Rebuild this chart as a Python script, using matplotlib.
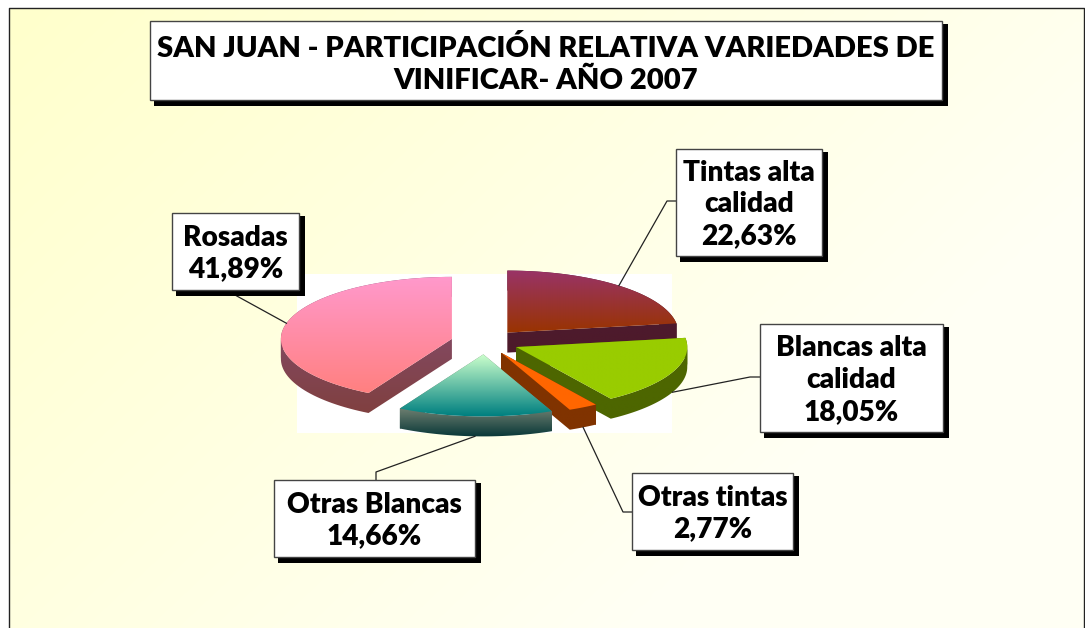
"""San Juan wine varieties: exploded 3D pie drawn on a pixel-sized axes."""

import matplotlib as mpl
mpl.use("Agg")
import matplotlib.pyplot as plt
import numpy as np
from matplotlib.colors import LinearSegmentedColormap
from matplotlib.patches import PathPatch, Rectangle
from matplotlib.path import Path

plt.rcParams["font.family"] = ["Lato", "DejaVu Sans"]

# ─── Data ────────────────────────────────────────────────────────────────────
TITLE = "SAN JUAN - PARTICIPACIÓN RELATIVA VARIEDADES DE\nVINIFICAR- AÑO 2007"
names = ["Tintas alta\ncalidad", "Blancas alta\ncalidad", "Otras tintas",
         "Otras Blancas", "Rosadas"]
shares = [22.63, 18.05, 2.77, 14.66, 41.89]

# ─── Slice colours (top of face, bottom of face) ─────────────────────────────
top_cols = [("#993366", "#993300"), ("#99cc00", "#99cc00"), ("#ff6600", "#ff6600"),
            ("#ccffcc", "#008080"), ("#ff99cc", "#ff8080")]
side_cols = [("#4d1a33", "#4d1a2a"), ("#4d6600", "#4d6600"), ("#803300", "#803300"),
             ("#6e7f70", "#0c3a3a"), ("#85507a", "#804040")]

# ─── Layout, in pixels ───────────────────────────────────────────────────────
W, H = 1085, 628
CX, CY = 485, 342
RX, RY = 171, 62
DEPTH = 20
EXPLODE = 0.2
TXT_FS = 20.2
TITLE_FS = 21

# box x0, x1, y0, y1 and the elbow of the leader line + where it meets the box
boxes = [(676, 822, 149, 256), (760, 943, 324, 432), (632, 793, 473, 550),
         (274, 475, 480, 557), (172, 299, 213, 290)]
elbows = [((667, 201), (676, 201)), ((750, 377), (760, 377)), ((623, 512), (632, 512)),
          ((376, 472), (376, 480)), ((235, 295), (235, 290))]
draw_order = [0, 4, 1, 2, 3]


def gradient_fill(ax, path, cols, y0, y1, zorder):
    # colour runs from y0 to y1, and stays flat outside that range
    cmap = LinearSegmentedColormap.from_list("g", cols)
    x0, x1 = path.vertices[:, 0].min() - 1, path.vertices[:, 0].max() + 1
    ya, yb = path.vertices[:, 1].min() - 1, path.vertices[:, 1].max() + 1
    ramp = np.clip((np.linspace(ya, yb, 128) - y0) / (y1 - y0), 0, 1)
    im = ax.imshow(ramp[:, None], cmap=cmap, vmin=0, vmax=1, aspect="auto",
                   extent=(x0, x1, yb, ya), zorder=zorder, interpolation="bilinear")
    im.set_clip_path(PathPatch(path, transform=ax.transData))


def text_box(ax, x0, x1, y0, y1, txt, fs, spacing=1.28, dy=2):
    # hard black drop shadow sits a bit lower right of the box
    ax.add_patch(Rectangle((x0 + 4, y0 + 3), x1 - x0 + 2, y1 - y0 + 3, fc="black", ec="none", zorder=20))
    ax.add_patch(Rectangle((x0, y0), x1 - x0, y1 - y0, fc="white", ec="#444444", lw=1.0, zorder=21))
    ax.text((x0 + x1) / 2, (y0 + y1) / 2 + dy, txt, ha="center", va="center", fontsize=fs,
            fontweight="heavy", color="black", linespacing=spacing, zorder=22)


fig = plt.figure(figsize=(W / 100, H / 100), dpi=100, facecolor="white")
ax = fig.add_axes([0, 0, 1, 1])
ax.axis("off")

# Panel background, pale yellow fading to the lower right
yy, xx = np.mgrid[0:1:64j, 0:1:64j]
cmap_bg = LinearSegmentedColormap.from_list("bg", ["#ffffcc", "#fffff4"])
ax.imshow(np.clip((xx * 0.8 + yy * 0.5) * 1.05, 0, 1), cmap=cmap_bg, vmin=0, vmax=1,
          aspect="auto", extent=(9, 1084, H + 10, 8), zorder=0, interpolation="bilinear")
ax.plot([9, 9, 1084, 1084], [H + 10, 8, 8, H + 10], color="#222222", lw=1.0, zorder=1)

# White chart area behind the pie
ax.add_patch(Rectangle((297, 274), 375, 159, fc="white", ec="none", zorder=2))

# Pie
edges = np.concatenate([[0], np.cumsum(shares)]) / sum(shares) * 2 * np.pi
for i in draw_order:
    a0, a1 = edges[i], edges[i + 1]
    mid = (a0 + a1) / 2
    ax0 = CX + EXPLODE * RX * np.sin(mid)
    ay0 = CY - EXPLODE * RY * np.cos(mid)
    t = np.linspace(a0, a1, 80)
    arc_x = ax0 + RX * np.sin(t)
    arc_y = ay0 - RY * np.cos(t)
    poly = np.column_stack([np.r_[ax0, arc_x, ax0], np.r_[ay0, arc_y, ay0]])

    # walls: every outline edge pulled down by the depth
    quads = []
    for p, q in zip(poly[:-1], poly[1:]):
        quad = np.array([p, q, q + [0, DEPTH], p + [0, DEPTH], p])
        area = np.sum(quad[:-1, 0] * quad[1:, 1] - quad[1:, 0] * quad[:-1, 1])
        quads.append(Path(quad if area > 0 else quad[::-1]))
    z = 3 + draw_order.index(i) * 2
    side = Path.make_compound_path(*quads)
    wall_top = min(arc_y[0], arc_y[-1])
    gradient_fill(ax, side, side_cols[i], wall_top, poly[:, 1].max() + DEPTH, z)
    gradient_fill(ax, Path(poly), top_cols[i], poly[:, 1].min(), poly[:, 1].max(), z + 1)

    # leader from the rim at the slice's middle angle, through the elbow, to the box
    rim_x = ax0 + RX * np.sin(mid)
    rim_y = ay0 - RY * np.cos(mid) + (DEPTH if np.cos(mid) < 0 else 0)
    (ex, ey), (bx, by) = elbows[i]
    ax.plot([rim_x, ex, bx], [rim_y, ey, by], color="#222222", lw=0.9, zorder=15)

    label = f"{names[i]}\n{shares[i]:.2f}%".replace(".", ",")
    text_box(ax, *boxes[i], label, TXT_FS)

text_box(ax, 150, 942, 21, 100, TITLE, TITLE_FS, spacing=1.3, dy=4)

ax.set_xlim(0, W)
ax.set_ylim(H, 0)
fig.savefig("out.png", dpi=100)
